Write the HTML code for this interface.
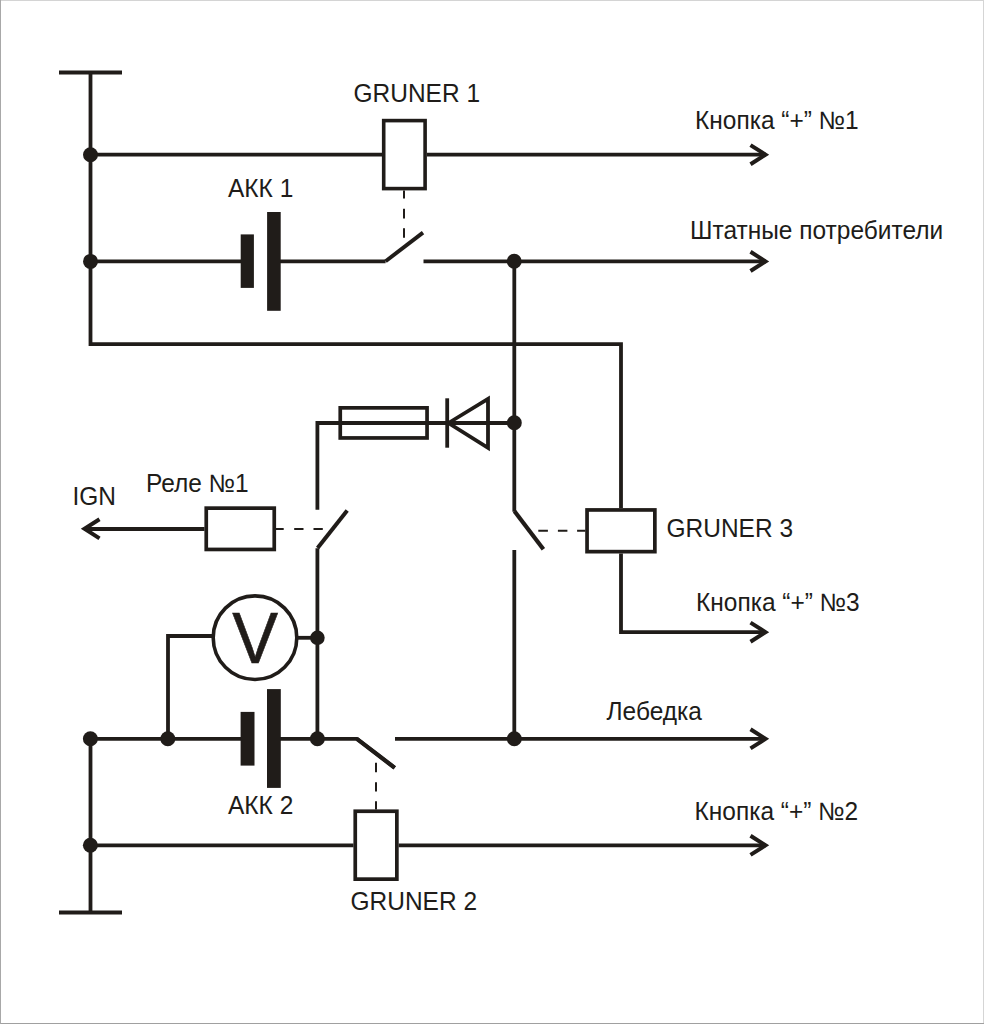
<!DOCTYPE html>
<html><head><meta charset="utf-8"><title>Schema</title>
<style>
html,body{margin:0;padding:0;background:#fff;}
body{width:984px;height:1024px;overflow:hidden;position:relative;}
svg{position:absolute;left:0;top:0;display:block;}
text{font-family:"Liberation Sans",sans-serif;fill:#201c19;}
</style></head><body>
<svg width="984" height="1024" viewBox="0 0 984 1024">
<rect x="0" y="0" width="984" height="1024" fill="#fff"/>
<!-- border -->
<rect x="0" y="0" width="984" height="1" fill="#d4d4d4"/>
<rect x="983" y="0" width="1" height="1024" fill="#d5d5d5"/>
<rect x="0" y="1023" width="984" height="1" fill="#a0a0a0"/>
<rect x="0" y="0" width="1" height="1024" fill="#a8a8a8"/>

<g fill="none" stroke="#201c19" stroke-width="3.8" stroke-linecap="butt" stroke-linejoin="miter">
  <!-- top T -->
  <line x1="59" y1="72.4" x2="122" y2="72.4" stroke-width="4"/>
  <!-- top bus -->
  <polyline points="90.5,72.4 90.5,344.2 621,344.2 621,508"/>
  <!-- line 1 -->
  <line x1="90.5" y1="154.7" x2="382" y2="154.7"/>
  <line x1="427" y1="154.7" x2="766" y2="154.7"/>
  <rect x="383.70" y="120.60" width="41.40" height="68.00" stroke-width="3.6"/>
  <!-- line 2: AKK1 -->
  <line x1="90.5" y1="261.4" x2="241" y2="261.4"/>
  <line x1="280" y1="261.4" x2="385.6" y2="261.4"/>
  <line x1="423.5" y1="261.4" x2="766" y2="261.4"/>
  <!-- vertical 514 -->
  <line x1="514.3" y1="261.3" x2="514.3" y2="511.8"/>
  <line x1="514.3" y1="550" x2="514.3" y2="739"/>
  <!-- fuse/diode -->
  <polyline points="317.4,509.8 317.4,423 514.2,423"/>
  <rect x="340.25" y="407.85" width="86.80" height="30.10" stroke-width="3.7"/>
  <line x1="447.2" y1="398.3" x2="447.2" y2="447.7"/>
  <polygon points="448.5,423 488,398.9 488,447.8"/>
  <!-- GRUNER 3 -->
  <rect x="587.05" y="509.95" width="67.80" height="41.70" stroke-width="3.7"/>
  <polyline points="621,553.5 621,632.2 766,632.2"/>
  <!-- Rele 1 -->
  <rect x="206.25" y="508.15" width="68.00" height="41.30" stroke-width="3.7"/>
  <line x1="204.5" y1="529" x2="84" y2="529"/>
  <line x1="317.4" y1="739" x2="317.4" y2="548.3"/>
  <!-- voltmeter -->
  <circle cx="255" cy="637.7" r="41.8" stroke-width="3.6"/>
  <polyline points="213.8,636 168,636 168,739"/>
  <line x1="296.4" y1="637.8" x2="317.4" y2="637.8"/>
  <!-- bottom bus -->
  <line x1="90.5" y1="738.7" x2="90.5" y2="912.5"/>
  <line x1="59" y1="912.5" x2="122" y2="912.5" stroke-width="4"/>
  <line x1="90.4" y1="738.8" x2="241" y2="738.8"/>
  <polyline points="280,738.8 356.9,738.8 394.7,767.8"/>
  <line x1="395" y1="738.8" x2="766" y2="738.8"/>
  <rect x="355.25" y="811.25" width="41.60" height="67.90" stroke-width="3.7"/>
  <line x1="90.4" y1="845.3" x2="353.5" y2="845.3"/>
  <line x1="398.6" y1="845.3" x2="766" y2="845.3"/>
  <!-- switch blades -->
  <line x1="385.6" y1="261.2" x2="423" y2="232.6" stroke-width="3.9"/>
  <line x1="514.5" y1="511.2" x2="543.4" y2="549.2" stroke-width="4.2"/>
  <line x1="317.6" y1="548" x2="347.2" y2="510.6" stroke-width="4"/>
  <line x1="356.9" y1="738.8" x2="394.7" y2="767.8" stroke-width="4.2"/>
  <!-- arrowheads -->
  <polyline points="750.5,145.1 765.5,154.7 750.5,164.3" stroke-width="4"/>
  <polyline points="750.5,251.8 765.5,261.4 750.5,271.0" stroke-width="4"/>
  <polyline points="750.5,622.6 765.5,632.2 750.5,641.8" stroke-width="4"/>
  <polyline points="750.5,729.2 765.5,738.8 750.5,748.4" stroke-width="4"/>
  <polyline points="750.5,835.7 765.5,845.3 750.5,854.9" stroke-width="4"/>
  <polyline points="99.5,519.2 84.5,528.8 99.5,538.4" stroke-width="4"/>
</g>
<g fill="none" stroke="#201c19" stroke-width="2">
  <line x1="404" y1="190.4" x2="404" y2="240" stroke-dasharray="8.2 10.2 9.6 9.9 9.4 100"/>
  <line x1="585.4" y1="530.7" x2="530" y2="530.7" stroke-dasharray="8.3 9.7 9.5 10 9.6 100"/>
  <line x1="276" y1="528.9" x2="330" y2="528.9" stroke-dasharray="7.7 10.5 9.3 10 9.3 100"/>
  <line x1="376" y1="809.4" x2="376" y2="755" stroke-dasharray="8.1 9.7 9.4 9.9 9.6 100"/>
</g>
<g fill="#201c19">
  <circle cx="90.5" cy="154.8" r="7.5"/>
  <circle cx="90.5" cy="261.4" r="7.5"/>
  <circle cx="514.2" cy="261.3" r="7.5"/>
  <circle cx="514.3" cy="422.8" r="7.5"/>
  <circle cx="317.4" cy="637.8" r="7.3"/>
  <circle cx="90.4" cy="738.8" r="7.5"/>
  <circle cx="167.8" cy="738.8" r="7.5"/>
  <circle cx="317.4" cy="738.8" r="7.5"/>
  <circle cx="514.3" cy="738.8" r="7.5"/>
  <circle cx="90.4" cy="845.3" r="7.5"/>
  <rect x="240.7" y="234.4" width="13.2" height="53.5"/>
  <rect x="267.1" y="212" width="13.6" height="98.8"/>
  <rect x="240.6" y="711.9" width="13.9" height="53.7"/>
  <rect x="267" y="689.1" width="13.8" height="98.8"/>
</g>

<g>
  <text transform="translate(353.50,101.50) scale(1,1.025)" font-size="24.5">GRUNER 1</text>
  <text transform="translate(228.00,197.40) scale(1,1.025)" font-size="24.5">АКК 1</text>
  <text transform="translate(695.00,129.00) scale(1,1.025)" font-size="24.5">Кнопка “+” №1</text>
  <text transform="translate(690.00,238.60) scale(1,1.025)" font-size="24.5">Штатные потребители</text>
  <text transform="translate(72.50,504.60) scale(1,1.025)" font-size="24.5">IGN</text>
  <text transform="translate(146.00,492.00) scale(1,1.025)" font-size="24.5">Реле №1</text>
  <text transform="translate(666.50,536.80) scale(1,1.025)" font-size="24.5">GRUNER 3</text>
  <text transform="translate(696.00,610.70) scale(1,1.025)" font-size="24.5">Кнопка “+” №3</text>
  <text transform="translate(606.50,719.50) scale(1,1.025)" font-size="24.5">Лебедка</text>
  <text transform="translate(228.00,813.70) scale(1,1.025)" font-size="24.5">АКК 2</text>
  <text transform="translate(694.50,819.70) scale(1,1.025)" font-size="24.5">Кнопка “+” №2</text>
  <text transform="translate(350.50,910.10) scale(1,1.025)" font-size="24.5">GRUNER 2</text>
  <text transform="translate(232.20,662.80) scale(0.95,1.005)" font-size="72.3" stroke="#201c19" stroke-width="0.6">V</text>
</g>
</svg>
</body></html>
